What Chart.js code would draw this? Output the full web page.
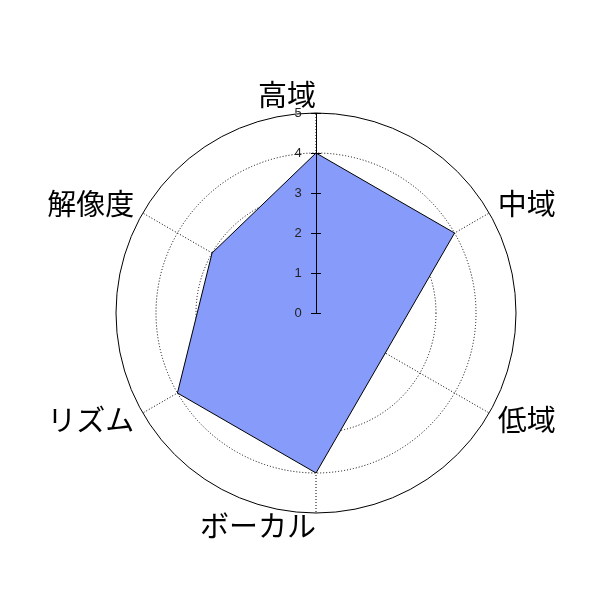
<!DOCTYPE html>
<html>
<head>
<meta charset="utf-8">
<script src="https://cdn.jsdelivr.net/npm/chart.js@4/dist/chart.umd.min.js"></script>
<style>
    html, body { margin: 0; padding: 0; background: #fff; }
    #wrap { width: 600px; height: 600px; }
</style>
</head>
<body>
<div id="wrap"><canvas id="radar"></canvas></div>
<script>
const axisLabels = ["高域", "中域", "低域", "ボーカル", "リズム", "解像度"];
const scores = [4, 4, 2, 4, 4, 3];
const tickValues = [0, 1, 2, 3, 4, 5];

const FILL_COLOR = "rgb(135, 155, 250)";
const LABEL_FONT = "29px 'Noto Sans CJK JP'";
const TICK_FONT = "13px 'Liberation Sans', Arial";

// the vertical axis with ticks is drawn over the polygon, like the R plot
const axisOverlay = {
    id: "axisOverlay",
    afterDatasetsDraw(chart) {
        const scale = chart.scales.r;
        const ctx = chart.ctx;
        const top = tickValues[tickValues.length - 1];

        ctx.save();
        ctx.strokeStyle = "#000";
        ctx.lineWidth = 1;
        ctx.setLineDash([]);

        const start = scale.getPointPosition(0, scale.getDistanceFromCenterForValue(tickValues[0]));
        const end = scale.getPointPosition(0, scale.getDistanceFromCenterForValue(top));
        ctx.beginPath();
        ctx.moveTo(start.x + 0.5, start.y);
        ctx.lineTo(end.x + 0.5, end.y);
        ctx.stroke();

        ctx.font = TICK_FONT;
        ctx.fillStyle = "#222";
        ctx.textAlign = "center";
        ctx.textBaseline = "middle";
        tickValues.forEach((v) => {
            const p = scale.getPointPosition(0, scale.getDistanceFromCenterForValue(v));
            const y = Math.round(p.y) + 0.5;
            ctx.beginPath();
            ctx.moveTo(p.x - 5, y);
            ctx.lineTo(p.x + 5, y);
            ctx.stroke();
            ctx.fillText(String(v), p.x - 18, p.y);
        });

        // spoke labels
        ctx.font = LABEL_FONT;
        ctx.fillStyle = "#000";
        axisLabels.forEach((label, i) => {
            const px = scale.getPointPosition(i, 210);
            const upper = px.y < scale.yCenter;
            const py = scale.getPointPosition(i, upper ? 218 : 213);
            const dx = px.x - scale.xCenter;
            let align = "right";
            if (dx > 1) {
                align = "left";
            }
            ctx.textAlign = align;
            ctx.fillText(label, px.x, py.y);
        });
        ctx.restore();
    }
};

const chart = new Chart(document.getElementById("radar").getContext("2d"), {
    type: "radar",
    data: {
        labels: axisLabels,
        datasets: [
            {
                data: scores,
                backgroundColor: FILL_COLOR,
                borderColor: "#000",
                borderWidth: 1,
                pointRadius: 0,
                fill: true
            }
        ]
    },
    options: {
        responsive: true,
        maintainAspectRatio: false,
        animation: false,
        layout: {
            padding: { left: 116, right: 84, top: 113, bottom: 87 }
        },
        plugins: {
            legend: { display: false },
            tooltip: { enabled: false }
        },
        scales: {
            r: {
                min: 0,
                max: 5,
                ticks: { display: false, stepSize: 1 },
                pointLabels: { display: false },
                grid: { circular: true, color: "#000", lineWidth: 1 },
                border: {
                    dash: (context) => (context.tick && context.tick.value === 5 ? [] : [1, 2])
                },
                angleLines: {
                    color: "#000",
                    lineWidth: 1,
                    borderDash: [1, 2]
                }
            }
        }
    },
    plugins: [axisOverlay]
});
</script>
</body>
</html>
